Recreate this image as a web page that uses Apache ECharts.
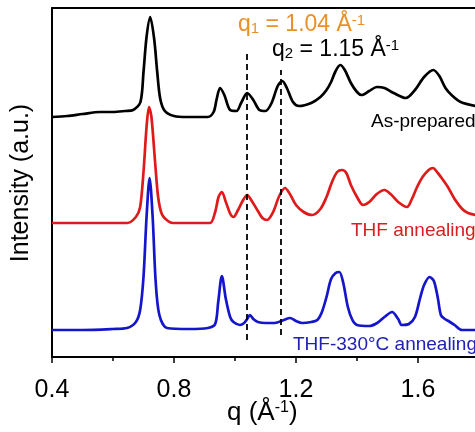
<!DOCTYPE html>
<html>
<head>
<meta charset="utf-8">
<script src="https://cdn.jsdelivr.net/npm/echarts@6/dist/echarts.min.js"></script>
<style>html,body{margin:0;padding:0;background:#fff;}#c{width:475px;height:432px;}</style>
</head>
<body>
<div id="c"></div>
<script>
// q (Å^-1) tick labels
var xTicks = [0.4, 0.8, 1.2, 1.6];
// Intensity (a.u., stacked with offsets as in the figure)
var asPrepared = [[0.40,240],[0.45,241],[0.50,243],[0.557,245],[0.60,245],[0.64,246],[0.666,247],[0.69,255],[0.70,285],[0.71,320],[0.722,340],[0.735,318],[0.745,285],[0.755,258],[0.77,246],[0.80,241],[0.842,240],[0.911,240],[0.93,245],[0.94,258],[0.951,269],[0.965,262],[0.984,247],[1.005,246],[1.02,254],[1.04,264],[1.06,257],[1.08,247],[1.10,246],[1.12,254],[1.14,271],[1.155,276],[1.17,269],[1.19,255],[1.21,251],[1.25,254],[1.28,260],[1.30,267],[1.315,275],[1.33,286],[1.345,292],[1.36,287],[1.38,274],[1.40,265],[1.415,262],[1.44,266],[1.465,270],[1.49,269],[1.52,264],[1.56,259],[1.59,267],[1.62,280],[1.65,287],[1.67,281],[1.69,269],[1.71,262],[1.74,255],[1.79,251]];
var thfAnneal = [[0.40,134],[0.50,134],[0.60,134],[0.646,134],[0.675,140],[0.689,150],[0.70,185],[0.71,230],[0.718,250],[0.726,240],[0.738,195],[0.748,160],[0.76,143],[0.78,136],[0.797,134],[0.85,134],[0.918,134],[0.935,145],[0.946,160],[0.957,165],[0.97,155],[0.985,143],[0.995,140],[1.01,147],[1.025,156],[1.04,162],[1.055,156],[1.075,146],[1.09,139],[1.105,137],[1.125,145],[1.145,161],[1.164,169],[1.18,163],[1.20,152],[1.225,145],[1.253,142],[1.28,148],[1.30,160],[1.318,175],[1.335,185],[1.351,187],[1.365,184],[1.38,172],[1.40,160],[1.42,152],[1.44,155],[1.465,163],[1.49,167],[1.51,163],[1.535,155],[1.564,150],[1.58,158],[1.597,170],[1.615,180],[1.635,187],[1.649,189],[1.665,184],[1.68,178],[1.698,170],[1.72,158],[1.745,148],[1.764,144],[1.79,142]];
var thf330 = [[0.40,27],[0.50,27],[0.60,28],[0.646,29],[0.675,35],[0.689,47],[0.70,80],[0.71,140],[0.72,179],[0.73,140],[0.74,75],[0.752,42],[0.777,29],[0.85,28],[0.911,29],[0.935,33],[0.945,55],[0.957,81],[0.97,58],[0.984,40],[0.995,35],[1.016,32],[1.03,34],[1.04,38],[1.049,42],[1.06,38],[1.075,35],[1.10,34],[1.13,34],[1.16,37],[1.18,39],[1.20,36],[1.22,34],[1.25,35],[1.27,37],[1.285,45],[1.30,60],[1.315,78],[1.33,84],[1.342,85],[1.355,74],[1.37,50],[1.385,37],[1.40,32],[1.44,31],[1.466,34],[1.49,40],[1.515,45],[1.535,38],[1.547,32],[1.57,33],[1.59,40],[1.607,59],[1.62,72],[1.638,80],[1.652,76],[1.665,59],[1.675,42],[1.688,38],[1.70,36],[1.72,32],[1.744,27],[1.79,27]];
var q1 = 1.04, q2 = 1.15;
var q1Range = [17, 307], q2Range = [22, 287];

var chart = echarts.init(document.getElementById('c'), null, {renderer:'canvas'});
var FONT = 'Liberation Sans';
function line(data, color, extra) {
  var s = {type:'line', data:data, showSymbol:false, smooth:0.3,
    lineStyle:{color:color, width:2.7}, silent:true, animation:false, z:3};
  if (extra) for (var k in extra) s[k] = extra[k];
  return s;
}
chart.setOption({
  animation:false,
  grid:{left:52, top:8, width:488, height:349, containLabel:false, outerBoundsMode:'none', show:false},
  xAxis:[{type:'value', min:0.4, max:2.0, interval:0.4,
    axisLine:{show:true, lineStyle:{color:'#000', width:2}},
    axisTick:{show:true, length:6, lineStyle:{color:'#000', width:1.5}},
    minorTick:{show:true, splitNumber:2, length:4, lineStyle:{color:'#000', width:1.5}},
    splitLine:{show:false},
    axisLabel:{fontFamily:FONT, fontSize:25, color:'#000', margin:21,
      formatter:function(v){ var s=xTicks.filter(function(t){return Math.abs(t-v)<1e-6;}); return s.length? s[0].toFixed(1):''; }}
  },{type:'value', position:'top', min:0.4, max:2.0,
    axisLine:{show:true, onZero:false, lineStyle:{color:'#000', width:2}},
    axisTick:{show:false}, axisLabel:{show:false}, splitLine:{show:false}}],
  yAxis:{type:'value', min:0, max:349,
    axisLine:{show:true, lineStyle:{color:'#000', width:2}},
    axisTick:{show:false}, axisLabel:{show:false}, splitLine:{show:false}
  },
  series:[
    line(asPrepared, '#000000', {markLine:{silent:true, symbol:'none', animation:false, label:{show:false},
      lineStyle:{color:'#000', width:1.8, type:[6,4]},
      data:[[{coord:[q1,q1Range[0]]},{coord:[q1,q1Range[1]]}],[{coord:[q2,q2Range[0]]},{coord:[q2,q2Range[1]]}]]}}),
    line(thfAnneal, '#DE1A1A'),
    line(thf330, '#1515CC')
  ],
  graphic:[
    {type:'text', x:21, y:183, rotation:Math.PI/2, style:{text:'Intensity (a.u.)', font:'25px "Liberation Sans"', fill:'#000', textAlign:'center', textVerticalAlign:'middle'}},
    {type:'text', left:238, top:13, style:{text:'{a|q}{s|1}{a| = 1.04 Å}{p|-1}', rich:{
      a:{fontFamily:FONT, fontSize:23, fill:'#E8912A'}, s:{fontFamily:FONT, fontSize:15, fill:'#E8912A', verticalAlign:'bottom', padding:[8,0,0,0]}, p:{fontFamily:FONT, fontSize:15, fill:'#E8912A', verticalAlign:'top'}}}},
    {type:'text', left:272, top:38, style:{text:'{a|q}{s|2}{a| = 1.15 Å}{p|-1}', rich:{
      a:{fontFamily:FONT, fontSize:23, fill:'#000'}, s:{fontFamily:FONT, fontSize:15, fill:'#000', verticalAlign:'bottom', padding:[8,0,0,0]}, p:{fontFamily:FONT, fontSize:15, fill:'#000', verticalAlign:'top'}}}},
    {type:'text', left:371, top:112, style:{text:'As-prepared', font:'19px "Liberation Sans"', fill:'#000'}},
    {type:'text', left:351, top:221, style:{text:'THF annealing', font:'19px "Liberation Sans"', fill:'#D42020'}},
    {type:'text', left:293, top:335, style:{text:'THF-330°C annealing', font:'19px "Liberation Sans"', fill:'#2020B8'}},
    {type:'text', left:227, top:400, style:{text:'{a|q (Å}{p|-1}{a|)}', rich:{
      a:{fontFamily:FONT, fontSize:26, fill:'#000'}, p:{fontFamily:FONT, fontSize:16, fill:'#000', verticalAlign:'top'}}}}
  ]
});
</script>
</body>
</html>
